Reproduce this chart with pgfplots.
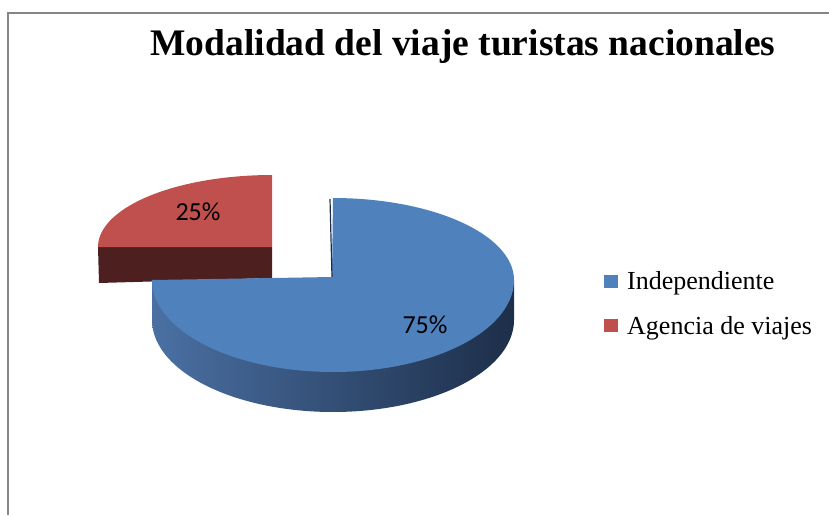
\documentclass[border=0pt]{standalone}
\usepackage{pgfplots}
\pgfplotsset{compat=1.18}
\usepackage{pgfplotstable}
\usepackage{fontspec}
\setmainfont{Liberation Serif}
\newfontfamily\calibri{Carlito}
\definecolor{bluetop}{RGB}{79,129,189}
\definecolor{redtop}{RGB}{192,80,77}
\definecolor{redside}{RGB}{78,31,31}
\definecolor{bsideL}{RGB}{74,112,163}
\definecolor{bsideR}{RGB}{29,46,73}
\definecolor{framegray}{RGB}{134,134,134}

\pgfplotstableread{
label value
Independiente 75
Agencia 25
}\datatable
\pgfplotstablegetelem{0}{value}\of\datatable \let\vIndep\pgfplotsretval
\pgfplotstablegetelem{1}{value}\of\datatable \let\vAgen\pgfplotsretval
\pgfmathsetmacro\total{\vIndep+\vAgen}
\pgfmathsetmacro\bEnd{90-360*(\vIndep/\total)}
\pgfmathsetmacro\rEnd{90+360*(\vAgen/\total)}

\begin{document}
\begin{tikzpicture}
\begin{axis}[
  name=ax,
  scale only axis, width=829pt, height=515pt,
  xmin=0, xmax=829, ymin=0, ymax=515, y dir=reverse,
  hide axis, clip=false,
  legend style={at={(axis cs:604,303.5)}, anchor=west, draw=none, fill=none,
    font=\fontsize{26}{31}\selectfont, row sep=21pt, inner sep=0pt,
    nodes={inner sep=2pt}},
  legend cell align=left, reverse legend,
  legend image code/.code={\fill[#1] (0pt,-6.5pt) rectangle (14pt,6.5pt); \path (21pt,0pt);},
]
% frame
\draw[framegray, line width=2pt] (axis cs:7.5,515) -- (axis cs:7.5,13) -- (axis cs:829,13);
% red slice (exploded)
\addplot[fill=redside, draw=none, forget plot] coordinates {(98,247) (272,247) (272,278) (99,283)} -- cycle;
\addplot[fill=redtop, draw=none, domain=90:\rEnd, samples=80, variable=\t]
  ({272+174*cos(\t)}, {247-72*sin(\t)}) -- (axis cs:272,247) -- cycle;
\addlegendentry{Agencia de viajes}
% blue slice
\addplot[left color=bsideL, right color=bsideR, draw=none, domain=-180:0, samples=120, variable=\t, forget plot]
  ({333+181*cos(\t)}, {320-92*sin(\t)}) -- (axis cs:514,280) -- (axis cs:152,280) -- cycle;
\addplot[fill=bluetop, draw=none, domain=\bEnd:90, samples=160, variable=\t]
  ({333+181*cos(\t)}, {280-(sin(\t)>0 ? 82 : 92)*sin(\t)}) -- (axis cs:332,277) -- cycle;
\addlegendentry{Independiente}
\addplot[draw=bsideR, line width=1.2pt, forget plot] coordinates {(330,199) (332,277)};
% labels
\node[font=\calibri\fontsize{26}{31}\selectfont] at (axis cs:198,212) {25\%};
\node[font=\calibri\fontsize{26}{31}\selectfont] at (axis cs:425,325) {75\%};
\node[anchor=base, font=\bfseries\fontsize{37.5}{45}\selectfont] at (axis cs:463,55) {Modalidad del viaje turistas nacionales};
\end{axis}
\pgfresetboundingbox
\path (ax.south west) rectangle (ax.north east);
\end{tikzpicture}
\end{document}
